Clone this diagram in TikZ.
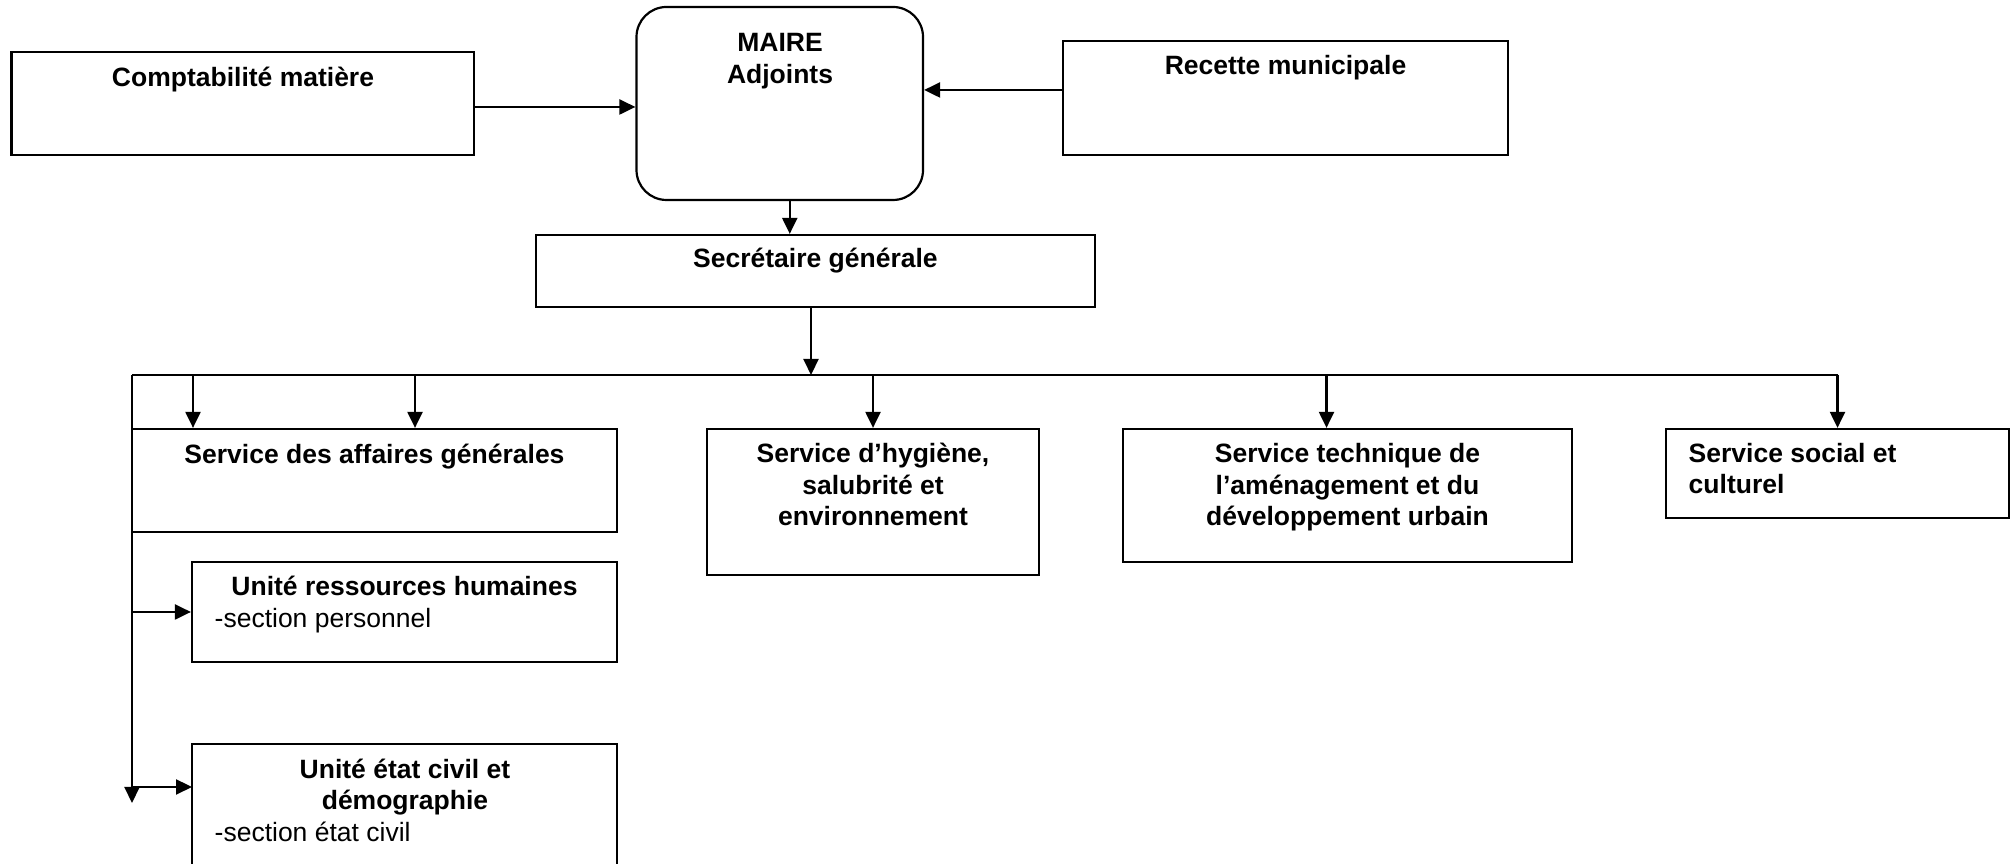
\documentclass[tikz,border=0pt]{standalone}
\usepackage{fontspec}
\setmainfont{Liberation Sans}
\usetikzlibrary{arrows.meta}

\begin{document}
\begin{tikzpicture}[
        box/.style={draw, line width=0.022cm, inner sep=0pt},
        title/.style={inner sep=0pt, anchor=base, align=center, font=\fontsize{7.54}{9.1}\selectfont\bfseries},
        plain/.style={inner sep=0pt, anchor=base west, align=left, font=\fontsize{7.54}{9.1}\selectfont},
        arr/.style={line width=0.022cm, -{Triangle[length=0.16cm,width=0.15cm]}},
        link/.style={line width=0.022cm}]
                \useasboundingbox (0,0) rectangle (20.15,8.64);
                \clip (0,0) rectangle (20.15,8.64);

                % Drawing box MAIRE
                \node [box, rounded corners=0.3cm, minimum width=2.865cm, minimum height=1.93cm] (maire) at (7.7975,7.605) {};%
                \node [title] (mairetxt) at (7.80,7.80) {MAIRE\\Adjoints};%

                % Drawing box Comptabilite matiere
                \node [box, minimum width=4.625cm, minimum height=1.03cm] (compta) at (2.4275,7.605) {};%
                \node [title] (comptatxt) at (2.43,7.77) {Comptabilité matière};%

                % Drawing box Recette municipale
                \node [box, minimum width=4.45cm, minimum height=1.14cm] (recette) at (12.855,7.66) {};%
                \node [title] (recettetxt) at (12.855,7.89) {Recette municipale};%

                % Drawing box Secretaire generale
                \node [box, minimum width=5.59cm, minimum height=0.72cm] (secr) at (8.155,5.93) {};%
                \node [title] (secrtxt) at (8.155,5.96) {Secrétaire générale};%

                % Drawing box Service des affaires generales
                \node [box, minimum width=4.85cm, minimum height=1.03cm] (affaires) at (3.745,3.835) {};%
                \node [title] (affairestxt) at (3.745,4.00) {Service des affaires générales};%

                % Drawing box Service d'hygiene
                \node [box, minimum width=3.32cm, minimum height=1.46cm] (hygiene) at (8.73,3.62) {};%
                \node [title] (hygienetxt) at (8.73,3.38) {Service d’hygiène,\\salubrité et\\environnement};%

                % Drawing box Service technique
                \node [box, minimum width=4.49cm, minimum height=1.33cm] (technique) at (13.475,3.685) {};%
                \node [title] (techniquetxt) at (13.475,3.38) {Service technique de\\l’aménagement et du\\développement urbain};%

                % Drawing box Service social
                \node [box, minimum width=3.43cm, minimum height=0.89cm] (social) at (18.375,3.905) {};%
                \node [title, anchor=base west, align=left] (socialtxt) at (16.88,3.70) {Service social et\\culturel};%

                % Drawing box Unite ressources humaines
                \node [box, minimum width=4.25cm, minimum height=1.0cm] (rh) at (4.045,2.52) {};%
                \node [title] (rhtxt) at (4.045,2.68) {Unité ressources humaines};%
                \node [plain] (rhsec) at (2.14,2.36) {-section personnel};%

                % Drawing box Unite etat civil
                \node [box, minimum width=4.25cm, minimum height=1.4cm] (etat) at (4.045,0.50) {};%
                \node [title] (etattxt) at (4.05,0.54) {Unité état civil et\\démographie};%
                \node [plain] (etatsec) at (2.14,0.22) {-section état civil};%

                % Drawing arrows to MAIRE
                \draw [arr] ([yshift=-0.035cm]compta.east) -- ([yshift=-0.035cm]compta.east -| maire.west);%
                \draw [arr] ([yshift=0.08cm]recette.west) -- ([yshift=0.08cm]recette.west -| maire.east);%
                \draw [arr] ([xshift=0.1cm]maire.south) -- ([xshift=0.1cm]maire.south |- secr.north);%

                % Drawing the bus
                \coordinate (busL) at (1.32,4.89);%
                \coordinate (busend) at (1.32,0.61);%
                \draw [arr] ([xshift=-0.045cm]secr.south) -- ([xshift=-0.045cm]secr.south |- busL);%
                \draw [link] (busL) -- (busL -| social.north);%
                \draw [arr] ([xshift=-1.815cm]affaires.north |- busL) -- ([xshift=-1.815cm]affaires.north);%
                \draw [arr] ([xshift=0.405cm]affaires.north |- busL) -- ([xshift=0.405cm]affaires.north);%
                \draw [arr] (hygiene.north |- busL) -- (hygiene.north);%
                \draw [arr] ([xshift=-0.21cm]technique.north |- busL) -- ([xshift=-0.21cm]technique.north);%
                \draw [arr] (social.north |- busL) -- (social.north);%

                % Drawing the left branch
                \draw [arr] (busL) -- (busend);%
                \draw [arr] (busL |- rh.west) -- (rh.west);%
                \coordinate (etatin) at (1.92,0.77);%
                \draw [arr] (busL |- etatin) -- (etatin);%
\end{tikzpicture}
\end{document}
